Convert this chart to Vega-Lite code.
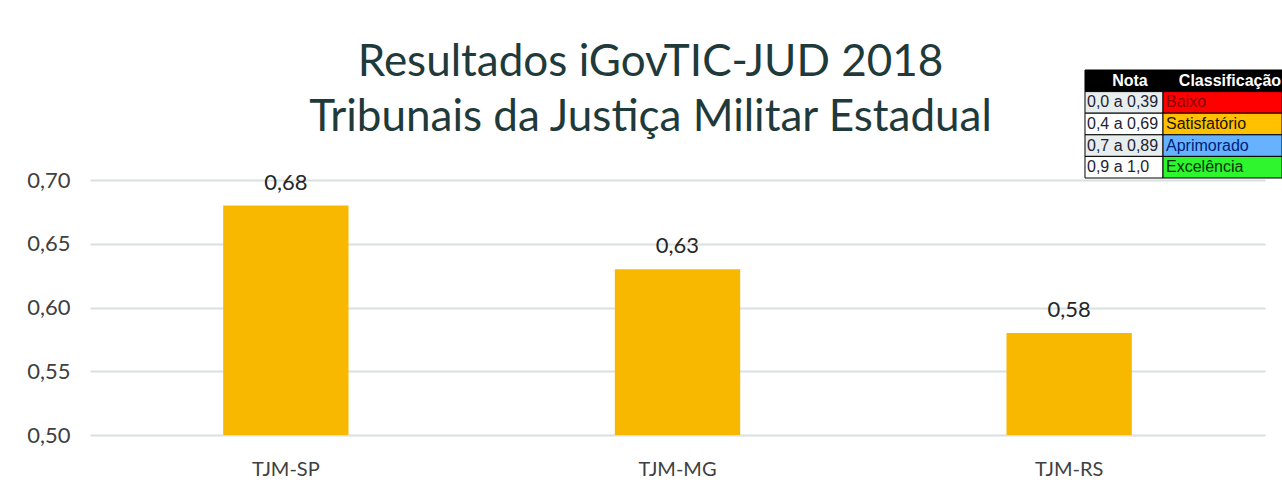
{
  "$schema": "https://vega.github.io/schema/vega-lite/v6.json",
  "autosize": "none",
  "width": 1175,
  "height": 365,
  "padding": {"left": 90, "top": 70, "right": 17, "bottom": 58},
  "background": "#ffffff",
  "config": {
    "view": {"stroke": null},
    "locale": {"number": {"decimal": ",", "thousands": ".", "grouping": [3], "currency": ["R$", ""]}}
  },
  "title": {
    "text": ["Resultados iGovTIC-JUD 2018", "Tribunais da Justiça Militar Estadual"],
    "font": "Lato",
    "fontSize": 44,
    "fontWeight": "normal",
    "color": "#1f3a3a",
    "lineHeight": 55,
    "anchor": "middle",
    "frame": "group",
    "dx": -27,
    "baseline": "top",
    "orient": "top",
    "offset": -70
  },
  "datasets": {
    "resultados": [
      {"Tribunal": "TJM-SP", "iGovTIC": 0.68},
      {"Tribunal": "TJM-MG", "iGovTIC": 0.63},
      {"Tribunal": "TJM-RS", "iGovTIC": 0.58}
    ],
    "tabela": [
      {"Nota": "Nota", "Classificação": "Classificação"},
      {"Nota": "0,0 a 0,39", "Classificação": "Baixo"},
      {"Nota": "0,4 a 0,69", "Classificação": "Satisfatório"},
      {"Nota": "0,7 a 0,89", "Classificação": "Aprimorado"},
      {"Nota": "0,9 a 1,0", "Classificação": "Excelência"}
    ]
  },
  "layer": [
    {
      "data": {"name": "resultados"},
      "encoding": {
        "x": {
          "field": "Tribunal", "type": "nominal", "sort": null,
          "scale": {"paddingInner": 0.68, "paddingOuter": 0.34},
          "axis": {"title": null, "labelAngle": 0, "labelFont": "Lato", "labelFontSize": 20, "labelColor": "#404040", "labelPadding": 24, "ticks": false, "domain": false, "grid": false}
        },
        "y": {
          "field": "iGovTIC", "type": "quantitative",
          "scale": {"domain": [0.5, 0.7863], "zero": false, "nice": false, "clamp": true},
          "axis": {"title": null, "values": [0.5, 0.55, 0.6, 0.65, 0.7], "format": ".2f", "labelFont": "Lato", "labelFontSize": 22, "labelColor": "#404040", "labelPadding": 20, "ticks": false, "domain": false, "grid": true, "gridColor": "#d9e0e0", "gridWidth": 2}
        }
      },
      "layer": [
        {"mark": {"type": "bar", "color": "#f9b800"}, "encoding": {"y2": {"datum": 0.5}}},
        {
          "mark": {"type": "text", "font": "Lato", "fontSize": 22, "color": "#262626", "baseline": "bottom", "dy": -11},
          "encoding": {"text": {"field": "iGovTIC", "type": "quantitative", "format": ".2f"}}
        }
      ]
    },
    {
      "data": {"name": "tabela"},
      "resolve": {"scale": {"fill": "independent", "color": "independent"}},
      "encoding": {
        "y": {
          "field": "Nota", "type": "nominal", "sort": null,
          "scale": {"domain": ["Nota", "0,0 a 0,39", "0,4 a 0,69", "0,7 a 0,89", "0,9 a 1,0"], "paddingInner": 0, "paddingOuter": 0, "range": [0, 108]},
          "axis": null
        }
      },
      "layer": [
        {
          "mark": {"type": "rect", "stroke": "#000000", "strokeWidth": 1},
          "encoding": {
            "x": {"datum": 0.8468, "type": "quantitative", "scale": {"domain": [0, 1], "nice": false, "zero": false}, "axis": null},
            "x2": {"datum": 0.9132},
            "fill": {"field": "Nota", "type": "nominal", "legend": null,
              "scale": {"domain": ["Nota", "0,0 a 0,39", "0,4 a 0,69", "0,7 a 0,89", "0,9 a 1,0"], "range": ["#000000", "#e8eded", "#ffffff", "#e8eded", "#ffffff"]}}
          }
        },
        {
          "mark": {"type": "rect", "stroke": "#000000", "strokeWidth": 1},
          "encoding": {
            "x": {"datum": 0.9132, "type": "quantitative"},
            "x2": {"datum": 1.0145},
            "fill": {"field": "Classificação", "type": "nominal", "legend": null,
              "scale": {"domain": ["Classificação", "Baixo", "Satisfatório", "Aprimorado", "Excelência"], "range": ["#000000", "#ff0000", "#ffc000", "#66b2ff", "#2ef52e"]}}
          }
        },
        {
          "transform": [{"filter": "datum.Nota === 'Nota'"}],
          "mark": {"type": "text", "font": "Liberation Sans", "fontSize": 16, "fontWeight": "bold", "color": "#ffffff", "align": "center"},
          "encoding": {
            "x": {"datum": 0.8851, "type": "quantitative"},
            "text": {"field": "Nota"}
          }
        },
        {
          "transform": [{"filter": "datum.Nota === 'Nota'"}],
          "mark": {"type": "text", "font": "Liberation Sans", "fontSize": 16, "fontWeight": "bold", "color": "#ffffff", "align": "center"},
          "encoding": {
            "x": {"datum": 0.9702, "type": "quantitative"},
            "text": {"field": "Classificação"}
          }
        },
        {
          "transform": [{"filter": "datum.Nota !== 'Nota'"}],
          "mark": {"type": "text", "font": "Liberation Sans", "fontSize": 16, "color": "#222233", "align": "left", "dx": 2},
          "encoding": {
            "x": {"datum": 0.8468, "type": "quantitative"},
            "text": {"field": "Nota"}
          }
        },
        {
          "transform": [{"filter": "datum.Nota !== 'Nota'"}],
          "mark": {"type": "text", "font": "Liberation Sans", "fontSize": 16, "align": "left", "dx": 3},
          "encoding": {
            "x": {"datum": 0.9132, "type": "quantitative"},
            "text": {"field": "Classificação"},
            "color": {"field": "Classificação", "type": "nominal", "legend": null,
              "scale": {"domain": ["Baixo", "Satisfatório", "Aprimorado", "Excelência"], "range": ["#8b0000", "#1a1400", "#00207a", "#003300"]}}
          }
        }
      ]
    }
  ],
  "resolve": {"scale": {"x": "independent", "y": "independent"}}
}
